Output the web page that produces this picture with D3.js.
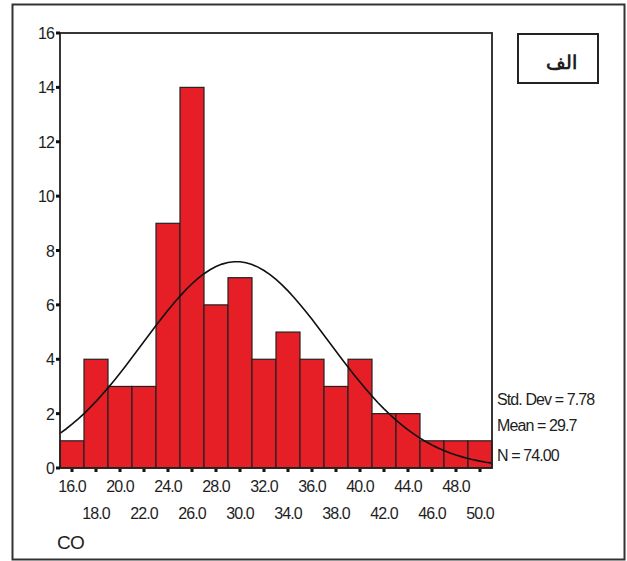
<!DOCTYPE html>
<html>
<head>
<meta charset="utf-8">
<script src="https://cdn.jsdelivr.net/npm/d3@7"></script>
<style>
  html, body { margin: 0; padding: 0; background: #fff; }
  svg { display: block; }
  text { font-family: "Liberation Sans", Arial, sans-serif; fill: #1e1e1e; }
</style>
</head>
<body>
<svg id="chart" width="627" height="561"></svg>
<script>
// Histogram of CO with fitted normal curve
const binStarts = [15, 17, 19, 21, 23, 25, 27, 29, 31, 33, 35, 37, 39, 41, 43, 45, 47, 49];
const counts    = [1, 4, 3, 3, 9, 14, 6, 7, 4, 5, 4, 3, 4, 2, 2, 1, 1, 1];
const binWidth  = 2;
const xTickLabels = ["16.0","18.0","20.0","22.0","24.0","26.0","28.0","30.0","32.0","34.0","36.0","38.0","40.0","42.0","44.0","46.0","48.0","50.0"];
const yTicks = [0, 2, 4, 6, 8, 10, 12, 14, 16];
const stdDev = 7.78;
const mean = 29.7;
const nTotal = 74;
const statLabels = ["Std. Dev = 7.78", "Mean = 29.7", "N = 74.00"];
const xTitle = "CO";
const panelLabel = "الف";

const svg = d3.select("#chart");

// outer frame
svg.append("rect")
  .attr("x", 12.5).attr("y", 4.5).attr("width", 612).attr("height", 555)
  .attr("fill", "none").attr("stroke", "#333").attr("stroke-width", 2);

const plot = { left: 60, right: 492, top: 33, bottom: 468 };
const x = d3.scaleLinear().domain([15, 51]).range([plot.left, plot.right]);
const y = d3.scaleLinear().domain([0, 16]).range([plot.bottom, plot.top]);

// bars
svg.append("g").selectAll("rect")
  .data(counts)
  .join("rect")
  .attr("x", (d, i) => x(binStarts[i]))
  .attr("y", d => y(d))
  .attr("width", (d, i) => x(binStarts[i] + binWidth) - x(binStarts[i]))
  .attr("height", d => y(0) - y(d))
  .attr("fill", "#e61e25")
  .attr("stroke", "#222")
  .attr("stroke-width", 1.2);

// normal curve from stated mean / std dev
const curveXs = d3.range(15, 51.001, 0.5);
const pdf = v => nTotal * binWidth / (stdDev * Math.sqrt(2 * Math.PI)) *
  Math.exp(-0.5 * Math.pow((v - mean) / stdDev, 2));
svg.append("path")
  .datum(curveXs)
  .attr("d", d3.line().x(v => x(v)).y(v => y(pdf(v))))
  .attr("fill", "none").attr("stroke", "#111").attr("stroke-width", 1.6);

// plot border
svg.append("rect")
  .attr("x", plot.left).attr("y", plot.top)
  .attr("width", plot.right - plot.left).attr("height", plot.bottom - plot.top)
  .attr("fill", "none").attr("stroke", "#222").attr("stroke-width", 1.8);

// y axis ticks and labels
const yAxis = svg.append("g");
yAxis.selectAll("rect").data(yTicks).join("rect")
  .attr("x", plot.left - 4).attr("y", d => y(d) - 1.5)
  .attr("width", 4).attr("height", 3).attr("fill", "#111");
yAxis.selectAll("text").data(yTicks).join("text")
  .attr("x", plot.left - 6).attr("y", d => y(d) + 6)
  .attr("text-anchor", "end")
  .attr("font-size", 16).attr("letter-spacing", "-0.9")
  .text(d => d);

// x axis ticks and staggered labels
const xAxis = svg.append("g");
const centers = binStarts.map(b => b + binWidth / 2);
xAxis.selectAll("rect").data(centers).join("rect")
  .attr("x", d => x(d) - 1.5).attr("y", plot.bottom + 1)
  .attr("width", 3).attr("height", 3).attr("fill", "#111");
xAxis.selectAll("text").data(centers).join("text")
  .attr("x", d => x(d))
  .attr("y", (d, i) => i % 2 === 0 ? 492 : 519)
  .attr("text-anchor", "middle")
  .attr("font-size", 16).attr("letter-spacing", "-0.9")
  .text((d, i) => xTickLabels[i]);

// axis title
svg.append("text")
  .attr("x", 57).attr("y", 549)
  .attr("font-size", 19).attr("letter-spacing", "-0.6")
  .text(xTitle);

// statistics
svg.append("g").selectAll("text").data(statLabels).join("text")
  .attr("x", 497)
  .attr("y", (d, i) => [405, 431, 461][i])
  .attr("font-size", 16).attr("letter-spacing", "-0.9")
  .text(d => d);

// panel label box
svg.append("rect")
  .attr("x", 518).attr("y", 34).attr("width", 80).attr("height", 49)
  .attr("fill", "#fff").attr("stroke", "#222").attr("stroke-width", 2);
svg.append("text")
  .attr("x", 561).attr("y", 69)
  .attr("text-anchor", "middle")
  .attr("font-family", "'DejaVu Sans', 'Noto Sans', sans-serif")
  .attr("font-weight", "bold")
  .attr("font-size", 19)
  .text(panelLabel);
</script>
</body>
</html>
